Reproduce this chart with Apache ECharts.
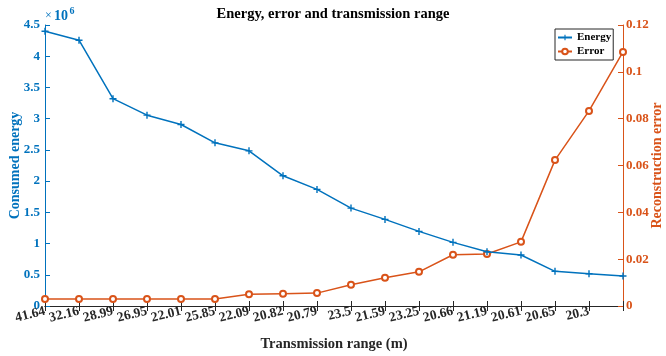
<!DOCTYPE html>
<html>
<head>
<meta charset="utf-8">
<script src="https://cdn.jsdelivr.net/npm/echarts@6/dist/echarts.min.js"></script>
<style>
  html, body { margin: 0; padding: 0; background: #ffffff; }
  #chart { width: 666px; height: 356px; }
</style>
</head>
<body>
<div id="chart"></div>
<script>
// Transmission range per run (last run has no tick label)
const rangeLabels = ['41.64', '32.16', '28.99', '26.95', '22.01', '25.85', '22.09', '20.82', '20.79',
  '23.5', '21.59', '23.25', '20.66', '21.19', '20.61', '20.65', '20.3', ''];
// Consumed energy per run
const energy = [4.40e6, 4.256e6, 3.32e6, 3.056e6, 2.907e6, 2.613e6, 2.485e6, 2.085e6, 1.867e6,
  1.568e6, 1.387e6, 1.195e6, 1.019e6, 0.869e6, 0.816e6, 0.555e6, 0.517e6, 0.48e6];
// Reconstruction error per run
const recError = [0.003, 0.003, 0.003, 0.003, 0.003, 0.003, 0.005, 0.00525, 0.0055,
  0.0091, 0.0121, 0.0146, 0.0219, 0.0222, 0.0274, 0.0623, 0.0833, 0.1085];

const BLUE = '#0072BD';
const ORANGE = '#D95319';
const DARK = '#262626';
const FONT = 'Liberation Serif';
const PLUS = 'path://M4,0H6V4H10V6H6V10H4V6H0V4H4Z';

const chart = echarts.init(document.getElementById('chart'), null, { renderer: 'canvas' });

chart.setOption({
  animation: false,
  backgroundColor: '#ffffff',
  textStyle: { fontFamily: FONT },
  title: {
    text: 'Energy, error and transmission range',
    left: 'center',
    top: 2,
    textStyle: { fontFamily: FONT, fontWeight: 'bold', fontSize: 14.5, color: '#000' }
  },
  legend: {
    orient: 'vertical',
    left: 555,
    top: 29,
    padding: [3, 2, 3, 2],
    itemGap: 3,
    itemWidth: 14,
    itemHeight: 7,
    borderColor: DARK,
    borderWidth: 1,
    backgroundColor: '#fff',
    textStyle: { fontFamily: FONT, fontWeight: 'bold', fontSize: 11, color: '#000' },
    data: ['Energy', 'Error']
  },
  grid: { left: 45, right: 43, top: 25, bottom: 50, outerBoundsMode: 'none' },
  xAxis: [
    {
      type: 'category',
      data: rangeLabels,
      boundaryGap: false,
      name: 'Transmission range (m)',
      nameLocation: 'middle',
      nameGap: 31,
      nameMoveOverlap: false,
      nameTextStyle: { fontFamily: FONT, fontWeight: 'bold', fontSize: 14.5, color: DARK },
      axisLine: { lineStyle: { color: DARK, width: 1 } },
      axisTick: { inside: true, length: 5, interval: 0, lineStyle: { color: DARK } },
      axisLabel: { interval: 0, rotate: 14, margin: 5, fontFamily: FONT, fontWeight: 'bold', fontSize: 13.5, color: DARK },
      splitLine: { show: false }
    },
    {
      type: 'category',
      position: 'top',
      data: rangeLabels,
      boundaryGap: false,
      axisLine: { lineStyle: { color: DARK, width: 1 } },
      axisTick: { inside: true, length: 5, interval: 0, lineStyle: { color: DARK } },
      axisLabel: { show: false },
      splitLine: { show: false }
    }
  ],
  yAxis: [
    {
      type: 'value',
      min: 0,
      max: 4.5e6,
      interval: 0.5e6,
      position: 'left',
      name: 'Consumed energy',
      nameLocation: 'middle',
      nameGap: 23,
      nameMoveOverlap: false,
      nameTextStyle: { fontFamily: FONT, fontWeight: 'bold', fontSize: 14, color: BLUE },
      axisLine: { show: true, lineStyle: { color: BLUE, width: 1 } },
      axisTick: { show: true, inside: true, length: 5, lineStyle: { color: BLUE } },
      axisLabel: {
        margin: 5, fontFamily: FONT, fontWeight: 'bold', fontSize: 13, color: BLUE,
        formatter: v => String(v / 1e6)
      },
      splitLine: { show: false }
    },
    {
      type: 'value',
      min: 0,
      max: 0.12,
      interval: 0.02,
      position: 'right',
      name: 'Reconstruction error',
      nameLocation: 'middle',
      nameGap: 27,
      nameRotate: 90,
      nameMoveOverlap: false,
      nameTextStyle: { fontFamily: FONT, fontWeight: 'bold', fontSize: 14, color: ORANGE },
      axisLine: { show: true, lineStyle: { color: ORANGE, width: 1 } },
      axisTick: { show: true, inside: true, length: 5, lineStyle: { color: ORANGE } },
      axisLabel: {
        margin: 3, fontFamily: FONT, fontWeight: 'bold', fontSize: 13, color: ORANGE,
        formatter: v => String(parseFloat(v.toFixed(2)))
      },
      splitLine: { show: false }
    }
  ],
  // exponent marker for the energy axis: ×10^6
  graphic: [
    {
      type: 'text',
      left: 45,
      top: 10,
      style: { text: '×', fontFamily: FONT, fontSize: 12, fill: BLUE }
    },
    {
      type: 'text',
      left: 54,
      top: 9,
      style: { text: '10', fontFamily: FONT, fontSize: 14, fontWeight: 'bold', fill: BLUE }
    },
    {
      type: 'text',
      left: 69.5,
      top: 6,
      style: { text: '6', fontFamily: FONT, fontSize: 10, fontWeight: 'bold', fill: BLUE }
    }
  ],
  series: [
    {
      name: 'Energy',
      type: 'line',
      xAxisIndex: 0,
      yAxisIndex: 0,
      data: energy,
      symbol: PLUS,
      symbolSize: 7,
      showAllSymbol: true,
      lineStyle: { color: BLUE, width: 1.5 },
      itemStyle: { color: BLUE },
      z: 3
    },
    {
      name: 'Error',
      type: 'line',
      xAxisIndex: 0,
      yAxisIndex: 1,
      data: recError,
      symbol: 'emptyCircle',
      symbolSize: 6,
      showAllSymbol: true,
      lineStyle: { color: ORANGE, width: 1.5 },
      itemStyle: { color: ORANGE, borderWidth: 1.2 },
      z: 2
    }
  ]
});
</script>
</body>
</html>
